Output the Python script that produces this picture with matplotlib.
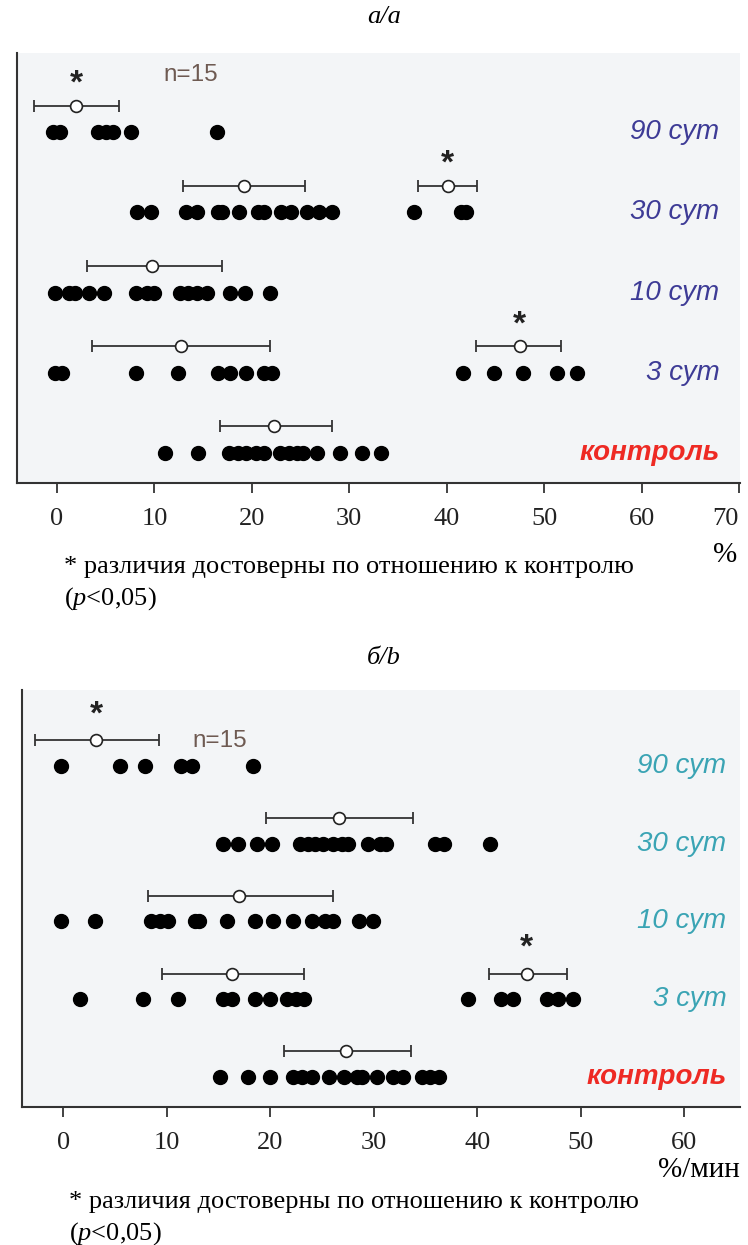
import matplotlib
matplotlib.use('Agg')
import matplotlib.pyplot as plt

plt.rcParams['mathtext.fontset'] = 'custom'
plt.rcParams['mathtext.it'] = 'Liberation Serif:italic'
plt.rcParams['mathtext.rm'] = 'Liberation Serif'

# ---- данные, панель а/a (%) ----
row_names = ['контроль', '3 сут', '10 сут', '30 сут', '90 сут']

a_ctrl = [11.1, 14.5, 17.7, 18.6, 19.4, 20.4, 21.2, 22.9, 23.8, 24.6, 25.3, 26.7, 29.1, 31.3, 33.3]
a_3 = [-0.2, 0.5, 8.1, 12.4, 16.5, 17.8, 19.4, 21.2, 22.1, 41.7, 44.9, 47.8, 51.3, 53.4]
a_10 = [-0.2, 1.2, 1.9, 3.3, 4.8, 8.1, 9.2, 10.0, 12.6, 13.4, 14.4, 15.4, 17.8, 19.3, 21.9]
a_30 = [8.2, 9.7, 13.2, 14.4, 16.5, 16.9, 18.7, 20.6, 21.2, 23.0, 24.0, 25.7, 26.9, 28.2, 36.6, 41.5, 42.0]
a_90 = [-0.4, 0.3, 4.2, 5.0, 5.8, 7.6, 16.4]

# среднее, нижняя и верхняя граница, строка, значимость
a_row = [0, 1, 1, 2, 3, 3, 4]
a_mean = [22.3, 12.7, 47.5, 9.8, 19.2, 40.1, 2.0]
a_lo = [16.7, 3.6, 43.0, 3.1, 12.9, 37.1, -2.4]
a_hi = [28.2, 21.9, 51.7, 16.9, 25.5, 43.1, 6.4]
a_sig = [False, False, True, False, False, True, True]

# ---- данные, панель б/b (%/мин) ----
b_ctrl = [15.1, 17.8, 20.0, 22.2, 23.1, 24.0, 25.7, 27.1, 28.4, 28.9, 30.3, 31.9, 32.8, 34.7, 35.4, 36.3]
b_3 = [1.6, 7.7, 11.1, 15.4, 16.3, 18.5, 20.0, 21.6, 22.5, 23.3, 39.1, 42.3, 43.5, 46.7, 47.8, 49.3]
b_10 = [-0.2, 3.1, 8.5, 9.3, 10.1, 12.7, 13.1, 15.8, 18.5, 20.3, 22.2, 24.0, 25.3, 26.1, 28.6, 29.9]
b_30 = [15.4, 16.9, 18.7, 20.2, 22.9, 23.6, 24.3, 25.1, 26.1, 26.9, 27.5, 29.4, 30.6, 31.2, 35.9, 36.8, 41.2]
b_90 = [-0.2, 5.5, 7.9, 11.4, 12.4, 18.3]

b_row = [0, 1, 1, 2, 3, 4]
b_mean = [27.3, 16.3, 44.8, 17.0, 26.6, 3.2]
b_lo = [21.3, 9.5, 41.1, 8.2, 19.6, -2.7]
b_hi = [33.6, 23.3, 48.7, 26.1, 33.8, 9.2]
b_sig = [False, False, True, False, False, True]

a_ticks = [0, 10, 20, 30, 40, 50, 60, 70]
b_ticks = [0, 10, 20, 30, 40, 50, 60]

W, H = 748, 1245
fig = plt.figure(figsize=(W / 100, H / 100), dpi=100)
bg = '#f3f5f7'
serif = 'Liberation Serif'


def px_box(l, t, r, b):
    return [l / W, 1 - b / H, (r - l) / W, (b - t) / H]


def draw_panel(ax, rows, row, mean, lo, hi, sig, xlim, ylim, ticks, lab_x, lab_color, n_xy, star_dy):
    ax.set_facecolor(bg)
    for i, vals in enumerate(rows):
        ax.plot(vals, [i] * len(vals), 'o', color='black', ms=10, mec='black', zorder=3)
    for r, m, l, h, s in zip(row, mean, lo, hi, sig):
        yb = r + 0.33
        ax.errorbar([m], [yb], xerr=[[m - l], [h - m]], fmt='none', ecolor='#333333',
                    elinewidth=1.3, capsize=4.5, capthick=1.3, zorder=2)
        ax.plot([m], [yb], 'o', ms=8.5, mfc='white', mec='#222222', mew=1.2, zorder=4)
        if s:
            ax.text(m, yb + star_dy, '*', ha='center', va='center', fontsize=24,
                    family='Liberation Sans', weight='bold', color='#222222')
    for i, name in enumerate(row_names):
        if i == 0:
            ax.text(lab_x, i, name, ha='right', va='center', fontsize=20, color='#ee2a24',
                    family='Liberation Sans', style='italic', weight='bold')
        else:
            ax.text(lab_x, i, name, ha='right', va='center', fontsize=20, color=lab_color,
                    family='Liberation Sans', style='italic')
    ax.text(n_xy[0], n_xy[1], 'n=15', ha='left', va='center', fontsize=17.5,
            color='#6e5a52', family='Liberation Sans')
    ax.set_xlim(*xlim)
    ax.set_ylim(*ylim)
    ax.set_xticks(ticks)
    ax.set_xticklabels([str(t) for t in ticks], family=serif, fontsize=19)
    ax.tick_params(axis='x', direction='out', length=7, width=1.2, pad=11, colors='#222222')
    ax.set_yticks([])
    for sp in ['top', 'right']:
        ax.spines[sp].set_visible(False)
    for sp in ['left', 'bottom']:
        ax.spines[sp].set_color('#333333')
        ax.spines[sp].set_linewidth(1.5)


ax1 = fig.add_axes(px_box(17, 53, 740, 483))
draw_panel(ax1, [a_ctrl, a_3, a_10, a_30, a_90], a_row, a_mean, a_lo, a_hi, a_sig,
           (-4.1, 70.1), (-0.375, 4.99), a_ticks, 68.0, '#3d3b96', (10.9, 4.72), 0.27)
ax1.get_xticklabels()[-1].set_ha('right')

ax2 = fig.add_axes(px_box(22, 690, 740, 1107))
draw_panel(ax2, [b_ctrl, b_3, b_10, b_30, b_90], b_row, b_mean, b_lo, b_hi, b_sig,
           (-4.0, 65.4), (-0.386, 4.977), b_ticks, 64.1, '#3aa4b4', (12.5, 4.32), 0.33)

# заголовки
fig.text(384 / W, 1 - 17 / H, 'а/a', ha='center', va='center', fontsize=19,
         family=serif, style='italic')
fig.text(384 / W, 1 - 658 / H, 'б/b', ha='center', va='center', fontsize=19,
         family=serif, style='italic')

# подписи осей
fig.text(737 / W, 1 - 555 / H, '%', ha='right', va='center', fontsize=21, family=serif)
fig.text(740 / W, 1 - 1170 / H, '%/мин', ha='right', va='center', fontsize=21, family=serif)

# примечания
note = '* различия достоверны по отношению к контролю'
fig.text(64 / W, 1 - 567 / H, note, ha='left', va='center', fontsize=19, family=serif)
fig.text(64 / W, 1 - 599 / H, '($p$<0,05)', ha='left', va='center', fontsize=19, family=serif)
fig.text(69 / W, 1 - 1202 / H, note, ha='left', va='center', fontsize=19, family=serif)
fig.text(69 / W, 1 - 1234 / H, '($p$<0,05)', ha='left', va='center', fontsize=19, family=serif)

fig.savefig('out.png', dpi=100, facecolor='white')
